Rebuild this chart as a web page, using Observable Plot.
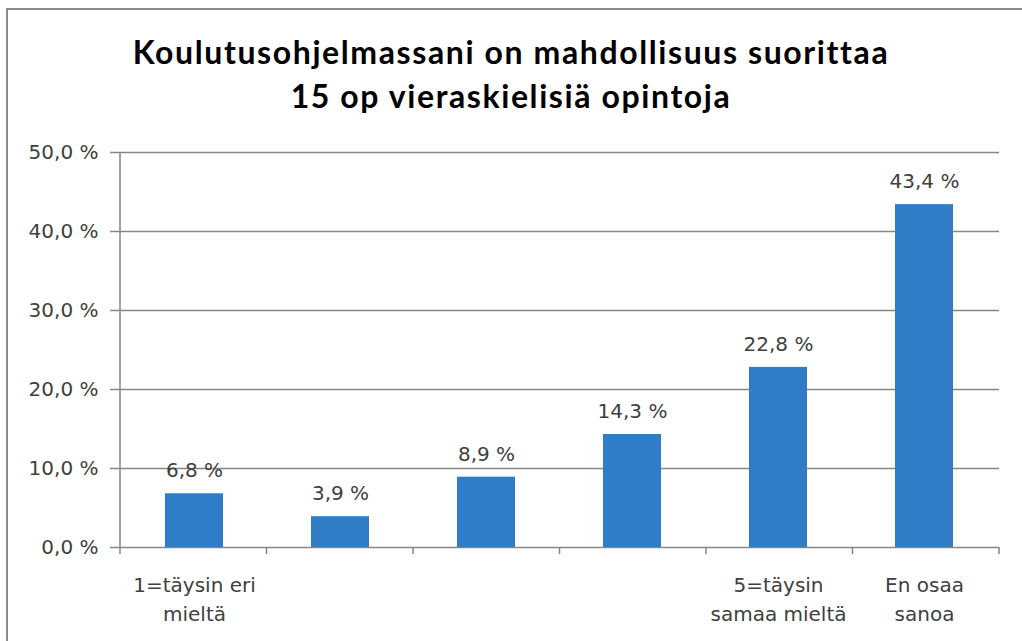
<!DOCTYPE html>
<html>
<head>
<meta charset="utf-8">
<script src="https://cdn.jsdelivr.net/npm/d3@7"></script>
<script src="https://cdn.jsdelivr.net/npm/@observablehq/plot@0.6"></script>
<style>
  html, body { margin: 0; padding: 0; background: #fff; overflow: hidden; }
  #wrap { position: relative; width: 1022px; height: 641px; }
  #border { position: absolute; left: 6px; top: 8px; width: 1100px; height: 700px;
    border-left: 2px solid #8a8a8a; border-top: 2px solid #8a8a8a; box-sizing: border-box; }
  #title { position: absolute; left: 0; top: 0; width: 1022px; height: 130px; box-sizing: border-box;
    padding-top: 30px; text-align: center; font-family: Lato, "Open Sans", sans-serif; font-weight: bold;
    font-size: 32px; letter-spacing: 1.6px; line-height: 44px; color: #000; }
  #chart { position: absolute; left: 0; top: 130px; }
</style>
</head>
<body>
<div id="wrap">
  <div id="border"></div>
  <div id="title">Koulutusohjelmassani on mahdollisuus suorittaa<br>15 op vieraskielisiä opintoja</div>
  <div id="chart"></div>
</div>
<script>
const categories = ["1=täysin eri mieltä", "2", "3", "4", "5=täysin samaa mieltä", "En osaa sanoa"];
const tickLabels = ["1=täysin eri\nmieltä", "", "", "", "5=täysin\nsamaa mieltä", "En osaa\nsanoa"];
const values = [6.8, 3.9, 8.9, 14.3, 22.8, 43.4];
const yTicks = [0, 10, 20, 30, 40, 50];

const fmt = v => v.toFixed(1).replace(".", ",") + " %";
const data = categories.map((c, i) => ({cat: c, v: values[i]}));
const axisColor = "#868686";
const textColor = "#404040";

function frameLines(index, scales, values, dimensions) {
  const {width, height, marginLeft, marginRight, marginTop, marginBottom} = dimensions;
  const g = d3.create("svg:g").attr("stroke", axisColor).attr("stroke-width", 1.5);
  const x0 = marginLeft, x1 = width - marginRight, yb = height - marginBottom;
  g.append("line").attr("x1", x0).attr("x2", x0).attr("y1", marginTop).attr("y2", yb);
  const n = categories.length;
  const step = (x1 - x0) / n;
  for (let k = 0; k <= n; k++) {
    const xx = x0 + k * step;
    g.append("line").attr("x1", xx).attr("x2", xx).attr("y1", yb).attr("y2", yb + 7);
  }
  return g.node();
}

const plot = Plot.plot({
  width: 1022,
  height: 511,
  marginTop: 22,
  marginBottom: 94,
  marginLeft: 120,
  marginRight: 23,
  style: {fontFamily: "'DejaVu Sans', sans-serif", fontSize: "20px", color: textColor, background: "transparent"},
  x: {domain: categories, paddingInner: 0.6, paddingOuter: 0.3, axis: null, label: null},
  y: {domain: [0, 50], axis: null, label: null},
  marks: [
    Plot.ruleY(yTicks, {stroke: axisColor, strokeWidth: 1.5, insetLeft: -10}),
    Plot.axisY(yTicks, {tickSize: 0, tickPadding: 22, tickFormat: fmt, fontSize: 20, fill: textColor, label: null}),
    Plot.barY(data, {x: "cat", y: "v", fill: "#2E7DC6"}),
    Plot.text(data, {x: "cat", y: "v", text: d => fmt(d.v), dy: -23, fontSize: 20, fill: textColor}),
    Plot.axisX({tickSize: 0, tickPadding: 24, tickFormat: d => tickLabels[categories.indexOf(d)], fontSize: 20, lineHeight: 1.45, fill: textColor, label: null}),
    frameLines
  ]
});
document.getElementById("chart").appendChild(plot);
</script>
</body>
</html>
